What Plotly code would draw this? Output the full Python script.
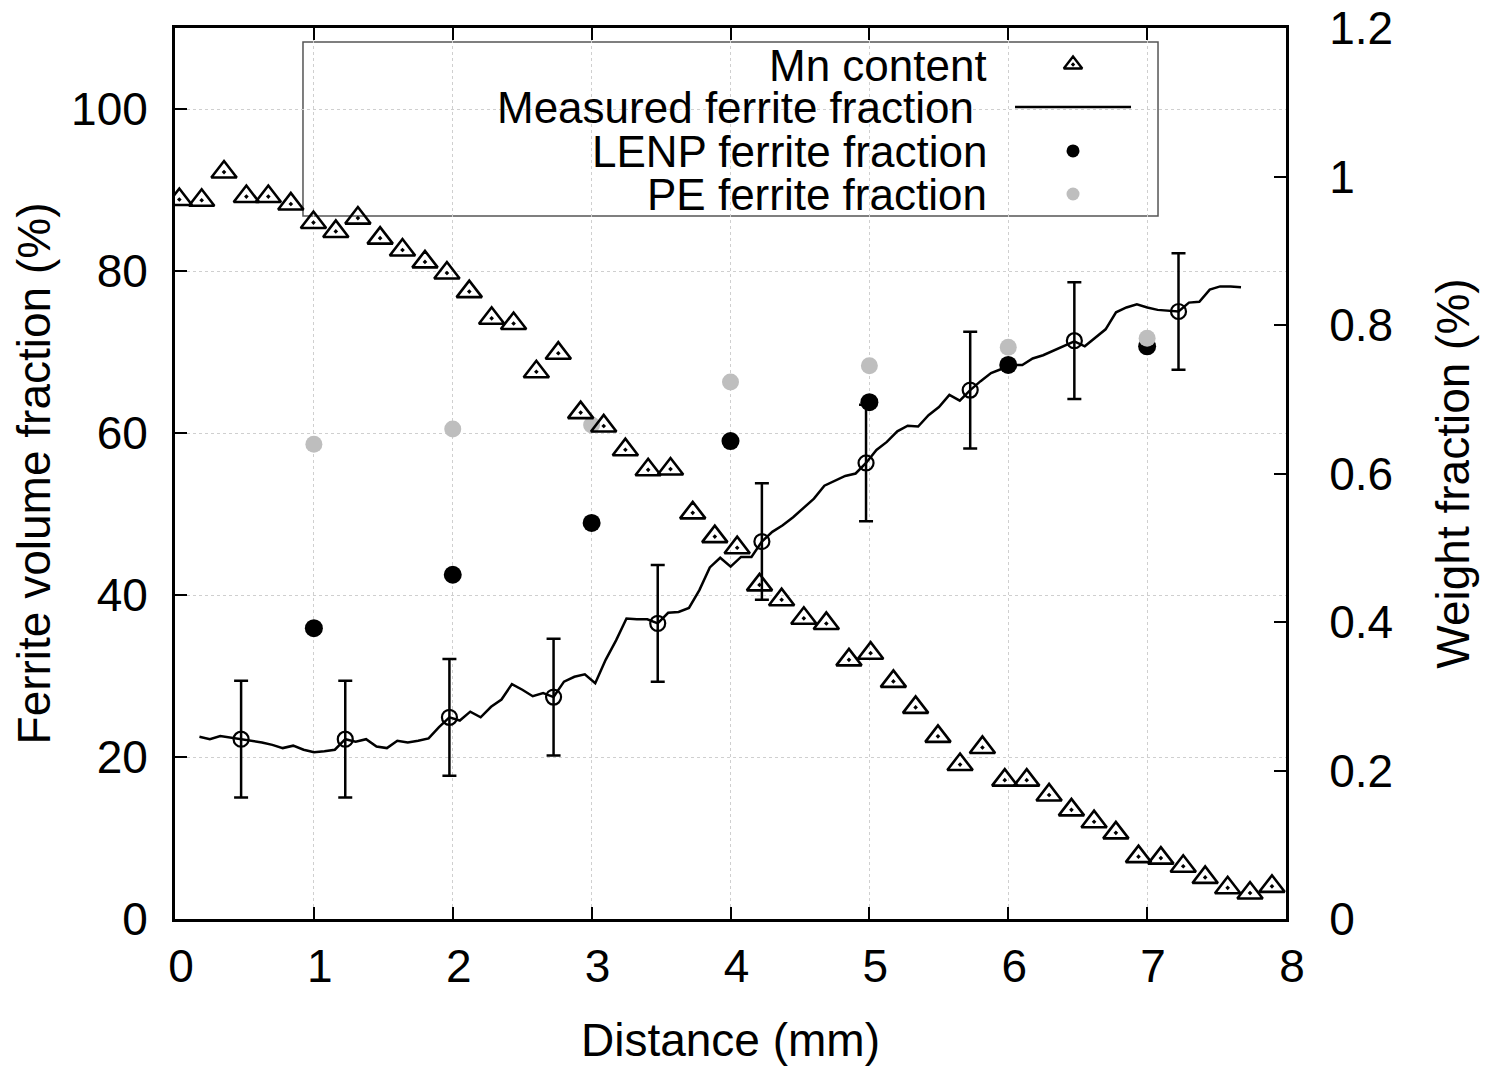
import plotly.graph_objects as go

# Mn content (weight %, right axis)
mn_x = [0.031, 0.192, 0.353, 0.514, 0.672, 0.834, 0.997, 1.158, 1.317, 1.477,
        1.638, 1.800, 1.958, 2.119, 2.280, 2.438, 2.602, 2.760, 2.921, 3.087,
        3.243, 3.407, 3.568, 3.728, 3.887, 4.048, 4.209, 4.368, 4.528, 4.690,
        4.853, 5.009, 5.173, 5.333, 5.494, 5.653, 5.814, 5.975, 6.133, 6.294,
        6.455, 6.618, 6.775, 6.938, 7.099, 7.260, 7.418, 7.580, 7.741, 7.899]
mn_wt = [0.969, 0.968, 1.006, 0.973, 0.973, 0.963, 0.938, 0.926, 0.944, 0.917,
         0.901, 0.885, 0.870, 0.845, 0.809, 0.802, 0.737, 0.762, 0.682, 0.664,
         0.632, 0.605, 0.606, 0.547, 0.515, 0.500, 0.450, 0.430, 0.405, 0.398,
         0.349, 0.358, 0.320, 0.285, 0.246, 0.208, 0.231, 0.187, 0.187, 0.167,
         0.147, 0.131, 0.116, 0.084, 0.082, 0.071, 0.056, 0.042, 0.035, 0.044]

# measured ferrite fraction (line)
meas_x = [0.176, 0.251, 0.326, 0.401, 0.476, 0.551, 0.626, 0.701, 0.776, 0.851,
          0.926, 1.001, 1.076, 1.151, 1.226, 1.301, 1.376, 1.451, 1.526, 1.601,
          1.676, 1.751, 1.826, 1.901, 1.976, 2.051, 2.126, 2.201, 2.276, 2.351,
          2.426, 2.501, 2.576, 2.651, 2.726, 2.801, 2.876, 2.951, 3.026, 3.101,
          3.176, 3.251, 3.326, 3.401, 3.476, 3.551, 3.626, 3.701, 3.776, 3.851,
          3.926, 4.001, 4.076, 4.151, 4.226, 4.301, 4.376, 4.451, 4.526, 4.601,
          4.676, 4.751, 4.826, 4.901, 4.976, 5.051, 5.126, 5.201, 5.276, 5.351,
          5.426, 5.501, 5.576, 5.651, 5.726, 5.801, 5.876, 5.951, 6.026, 6.101,
          6.176, 6.251, 6.326, 6.401, 6.476, 6.551, 6.626, 6.701, 6.776, 6.851,
          6.926, 7.001, 7.076, 7.151, 7.226, 7.301, 7.376, 7.451, 7.526, 7.601,
          7.676]
meas_y = [22.5, 22.2, 22.6, 22.4, 22.2, 22.0, 21.8, 21.5, 21.1, 21.4,
          20.9, 20.6, 20.7, 20.9, 22.2, 21.9, 22.2, 21.3, 21.1, 22.0,
          21.8, 22.0, 22.3, 23.7, 24.9, 24.5, 25.6, 24.9, 26.2, 27.1,
          29.0, 28.3, 27.5, 27.9, 27.4, 29.3, 29.9, 30.2, 29.1, 32.0,
          34.4, 37.1, 37.0, 37.0, 36.5, 37.8, 37.9, 38.4, 40.6, 43.4,
          44.6, 43.5, 44.7, 44.7, 46.6, 47.8, 48.6, 49.6, 50.7, 51.9,
          53.5, 54.1, 54.7, 55.0, 56.3, 57.9, 58.9, 60.2, 60.9, 60.8,
          62.2, 63.2, 64.7, 64.0, 65.3, 66.4, 67.4, 67.9, 68.4, 68.4,
          69.2, 69.6, 70.2, 70.7, 71.3, 70.7, 71.7, 72.8, 74.9, 75.5,
          75.9, 75.5, 75.2, 75.1, 75.0, 76.1, 76.2, 77.7, 78.1, 78.1,
          78.0]

# points with error bars
err_x = [0.476, 1.226, 1.976, 2.726, 3.476, 4.226, 4.976, 5.726, 6.476, 7.226]
err_y = [22.2, 22.2, 24.9, 27.4, 36.5, 46.6, 56.3, 65.3, 71.4, 75.0]
err_d = [7.2, 7.2, 7.2, 7.2, 7.2, 7.2, 7.2, 7.2, 7.2, 7.2]

# model predictions
model_x = [1, 2, 3, 4, 5, 6, 7]
lenp_y = [35.9, 42.5, 48.9, 59.0, 63.8, 68.4, 70.7]
pe_y = [58.6, 60.5, 61.0, 66.3, 68.3, 70.6, 71.7]

# axis ticks
left_ticks = [0, 20, 40, 60, 80, 100]
right_ticks = [0, 0.2, 0.4, 0.6, 0.8, 1.0, 1.2]
right_labels = ["0", "0.2", "0.4", "0.6", "0.8", "1", "1.2"]

legend_labels = ["Mn content", "Measured ferrite fraction",
                 "LENP ferrite fraction", "PE ferrite fraction"]

FONT = "Liberation Sans, Arial, sans-serif"
GREY = "rgb(190,190,190)"

fig = go.Figure()

fig.add_trace(go.Scatter(
    x=mn_x, y=mn_wt, yaxis="y2", mode="markers",
    marker=dict(symbol="triangle-up-open-dot", size=22, color="black",
                line=dict(width=2.6, color="black")),
    showlegend=False))

fig.add_trace(go.Scatter(
    x=meas_x, y=meas_y, mode="lines",
    line=dict(color="black", width=2.5), showlegend=False))

fig.add_trace(go.Scatter(
    x=err_x, y=err_y, mode="markers",
    marker=dict(symbol="circle-open", size=15, color="black",
                line=dict(width=2.2, color="black")),
    error_y=dict(type="data", array=err_d, color="black", thickness=2.5, width=7),
    showlegend=False))

fig.add_trace(go.Scatter(
    x=model_x, y=lenp_y, mode="markers",
    marker=dict(symbol="circle", size=18, color="black"), showlegend=False))

fig.add_trace(go.Scatter(
    x=model_x, y=pe_y, mode="markers",
    marker=dict(symbol="circle", size=17, color=GREY), showlegend=False))

# key symbols, drawn on a hidden helper axis pair laid over the plot area
key_x = 0.8083
key_y = [0.9590, 0.9113, 0.8620, 0.8137]
fig.add_trace(go.Scatter(
    x=[key_x], y=[key_y[0]], xaxis="x3", yaxis="y3", mode="markers",
    marker=dict(symbol="triangle-up-open-dot", size=16, color="black",
                line=dict(width=2.4, color="black")), showlegend=False))
fig.add_trace(go.Scatter(
    x=[0.7561, 0.8605], y=[key_y[1], key_y[1]], xaxis="x3", yaxis="y3",
    mode="lines", line=dict(color="black", width=2.5), showlegend=False))
fig.add_trace(go.Scatter(
    x=[key_x], y=[key_y[2]], xaxis="x3", yaxis="y3", mode="markers",
    marker=dict(symbol="circle", size=13, color="black"), showlegend=False))
fig.add_trace(go.Scatter(
    x=[key_x], y=[key_y[3]], xaxis="x3", yaxis="y3", mode="markers",
    marker=dict(symbol="circle", size=13, color=GREY), showlegend=False))

label_right = [0.7315, 0.7198, 0.7315, 0.7315]
for txt, xr, yy in zip(legend_labels, label_right, key_y):
    fig.add_annotation(text=txt, xref="paper", yref="paper", x=xr, y=yy,
                       xanchor="right", yanchor="middle", showarrow=False,
                       height=36, valign="middle", borderpad=0,
                       font=dict(size=44, color="black", family=FONT))

fig.add_shape(type="rect", xref="paper", yref="paper",
              x0=0.1152, x1=0.8848, y0=0.789, y1=0.9843,
              line=dict(color="#555555", width=1.5), fillcolor="white",
              layer="between")

axis_font = dict(size=46, color="black", family=FONT)

# page body has an 8px margin, so the figure is 8px smaller than the window
fig.update_layout(
    width=1486, height=1058,
    margin=dict(l=167, r=208, t=20, b=147, autoexpand=False),
    paper_bgcolor="white", plot_bgcolor="white",
    font=dict(family=FONT, color="black"),
    xaxis=dict(range=[0, 8], dtick=1, ticks="inside", ticklen=12, tickwidth=2,
               tickcolor="black", showline=True, linewidth=3, linecolor="black",
               mirror="ticks", showgrid=True, gridcolor="#cfcfcf", griddash="dot",
               gridwidth=1, zeroline=False, tickfont=axis_font,
               ticklabelstandoff=5, ticklabelshift=6,
               title=dict(text="Distance (mm)", font=axis_font, standoff=34)),
    yaxis=dict(range=[0, 110], tickvals=left_ticks, ticks="inside",
               ticklen=12, tickwidth=2, tickcolor="black", showline=True,
               linewidth=3, linecolor="black", showgrid=True, gridcolor="#cfcfcf",
               griddash="dot", gridwidth=1, zeroline=False, tickfont=axis_font,
               ticklabelstandoff=15,
               title=dict(text="Ferrite volume fraction (%)", font=axis_font,
                          standoff=6)),
    yaxis2=dict(range=[0, 1.2], tickvals=right_ticks, ticktext=right_labels,
                overlaying="y", side="right", ticklabeloverflow="allow",
                ticks="inside", ticklen=12, tickwidth=2, tickcolor="black",
                showline=True, linewidth=3, linecolor="black", showgrid=False,
                zeroline=False, tickfont=axis_font, ticklabelstandoff=31,
                title=dict(text="Weight fraction (%)", font=axis_font,
                           standoff=45)),
    xaxis3=dict(range=[0, 1], overlaying="x", visible=False, anchor="y3"),
    yaxis3=dict(range=[0, 1], overlaying="y", visible=False, anchor="x3"),
)

fig.write_html("out.html")
